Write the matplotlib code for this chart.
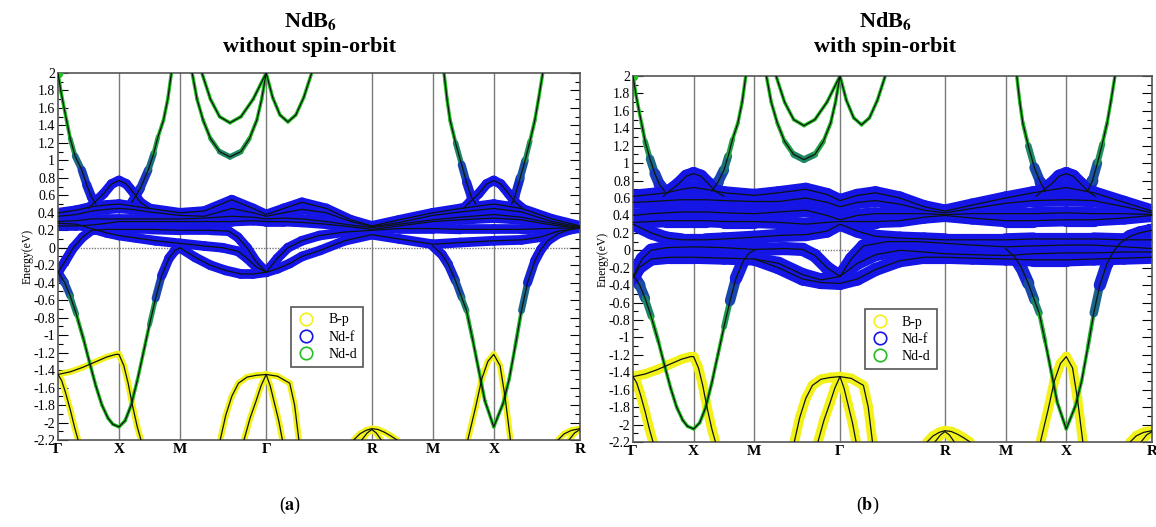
import numpy as np
import matplotlib
matplotlib.use("Agg")
import matplotlib.pyplot as plt
from matplotlib.collections import LineCollection
from matplotlib.lines import Line2D
from matplotlib.colors import to_rgb

plt.rcParams['font.family'] = ['Liberation Serif', 'DejaVu Serif']
plt.rcParams['mathtext.fontset'] = 'stix'

# high symmetry path G-X-M-G-R-M-X-R, lengths in units of pi/a
labels = ['Γ', 'X', 'M', 'Γ', 'R', 'M', 'X', 'R']
seg_len = [1, 1, np.sqrt(2), np.sqrt(3), 1, 1, np.sqrt(2)]
kpts = np.concatenate([[0], np.cumsum(seg_len)])

# common k grid for the flat f manifold
kf = [0, 0.3, 0.55, 0.8, 1.0, 1.2, 1.5, 2.0, 2.4, 2.85, 3.2, 3.414, 3.7, 4.0,
      4.4, 4.8, 5.146, 5.6, 6.146, 6.6, 7.146, 7.6, 8.1, 8.56]

# ---------------- without spin-orbit ----------------
nso_f = [
    (kf, [0.40, 0.43, 0.47, 0.49, 0.50, 0.48, 0.45, 0.40, 0.42, 0.55, 0.45, 0.38,
          0.45, 0.52, 0.45, 0.32, 0.25, 0.32, 0.40, 0.45, 0.50, 0.45, 0.33, 0.25]),
    (kf, [0.36, 0.38, 0.42, 0.44, 0.45, 0.44, 0.41, 0.37, 0.36, 0.45, 0.40, 0.36,
          0.40, 0.44, 0.40, 0.30, 0.24, 0.29, 0.37, 0.41, 0.45, 0.41, 0.30, 0.24]),
    (kf, [0.30, 0.31, 0.33, 0.33, 0.33, 0.33, 0.33, 0.33, 0.34, 0.36, 0.35, 0.33,
          0.34, 0.33, 0.30, 0.26, 0.23, 0.27, 0.32, 0.35, 0.38, 0.35, 0.28, 0.23]),
    (kf, [0.25, 0.25, 0.26, 0.28, 0.30, 0.30, 0.30, 0.30, 0.30, 0.30, 0.31, 0.30,
          0.30, 0.29, 0.27, 0.24, 0.21, 0.25, 0.30, 0.32, 0.34, 0.32, 0.26, 0.22]),
    ([0, 0.3, 0.55, 0.8, 1.0, 1.3, 1.6, 2.0, 2.4, 2.7, 2.95, 3.1, 3.25, 3.414],
     [0.28, 0.27, 0.22, 0.17, 0.14, 0.11, 0.08, 0.05, 0.02, 0.0, -0.04, -0.12, -0.22, -0.28]),
    ([0, 0.12, 0.25, 0.4, 0.55, 0.8, 1.0, 1.5, 2.0, 2.5, 2.8, 2.95, 3.1, 3.25, 3.414],
     [-0.28, -0.15, 0.0, 0.12, 0.2, 0.21, 0.21, 0.21, 0.2, 0.2, 0.19, 0.12, 0.0, -0.16, -0.28]),
    ([2.0, 2.25, 2.5, 2.75, 3.0, 3.2, 3.414, 3.6, 3.8, 4.0, 4.3, 4.7, 5.146, 5.6,
      6.146, 6.6, 7.146, 7.6, 7.9, 8.2, 8.56],
     [0.0, -0.11, -0.2, -0.26, -0.3, -0.3, -0.28, -0.24, -0.18, -0.1, -0.03, 0.08,
      0.15, 0.1, 0.04, 0.06, 0.08, 0.09, 0.12, 0.19, 0.23]),
    ([3.414, 3.6, 3.77, 4.0, 4.29, 4.7, 5.146, 5.6, 6.146, 6.6, 7.146, 7.6, 8.0, 8.56],
     [-0.28, -0.12, 0.0, 0.08, 0.14, 0.18, 0.2, 0.22, 0.22, 0.21, 0.21, 0.21, 0.22, 0.23]),
    ([0.5, 0.6, 0.75, 0.88, 1.0, 1.12, 1.25, 1.35, 1.5],
     [0.45, 0.52, 0.62, 0.73, 0.77, 0.73, 0.62, 0.52, 0.45]),
    ([6.65, 6.75, 6.9, 7.03, 7.146, 7.26, 7.39, 7.5, 7.62],
     [0.45, 0.52, 0.62, 0.73, 0.77, 0.73, 0.62, 0.52, 0.45]),
]

nso_d = [
    ([0, 0.05, 0.1, 0.14, 0.2, 0.28, 0.39, 0.47, 0.55, 0.62],
     [2.0, 1.78, 1.6, 1.46, 1.25, 1.05, 0.89, 0.72, 0.58, 0.5]),
    ([1.21, 1.35, 1.48, 1.57, 1.64, 1.73, 1.8, 1.86],
     [0.52, 0.68, 0.89, 1.08, 1.27, 1.46, 1.7, 2.0]),
    ([6.33, 6.38, 6.43, 6.52, 6.62, 6.7, 6.78, 6.85],
     [2.0, 1.7, 1.46, 1.2, 0.95, 0.75, 0.58, 0.5]),
    ([7.44, 7.49, 7.58, 7.66, 7.74, 7.82, 7.88, 7.95],
     [0.5, 0.58, 0.8, 1.0, 1.22, 1.46, 1.7, 2.0]),
    ([2.2, 2.28, 2.38, 2.5, 2.65, 2.82, 3.0, 3.14, 3.26, 3.34, 3.414],
     [2.0, 1.7, 1.46, 1.25, 1.1, 1.04, 1.1, 1.25, 1.46, 1.7, 2.0]),
    ([2.36, 2.5, 2.65, 2.82, 3.0, 3.2, 3.414],
     [2.0, 1.7, 1.5, 1.43, 1.5, 1.7, 2.0]),
    ([3.414, 3.52, 3.64, 3.77, 3.9, 4.03, 4.16],
     [2.0, 1.72, 1.52, 1.44, 1.52, 1.72, 2.0]),
    ([0, 0.11, 0.2, 0.3, 0.42, 0.52, 0.62, 0.72, 0.82, 0.9, 1.0, 1.1, 1.2, 1.3,
      1.4, 1.5, 1.6, 1.7, 1.82, 1.92, 2.0],
     [-0.28, -0.4, -0.55, -0.76, -1.05, -1.32, -1.58, -1.8, -1.95, -2.02, -2.05,
      -1.98, -1.8, -1.52, -1.2, -0.88, -0.58, -0.32, -0.12, -0.03, 0.0]),
    ([6.146, 6.3, 6.4, 6.52, 6.62, 6.7, 6.8, 6.9, 7.0, 7.146, 7.3, 7.4, 7.5, 7.6,
      7.7, 7.82, 7.92, 8.03, 8.2, 8.36, 8.56],
     [0.02, -0.08, -0.19, -0.38, -0.57, -0.72, -1.05, -1.4, -1.75, -2.05, -1.78,
      -1.5, -1.12, -0.72, -0.4, -0.15, -0.02, 0.08, 0.16, 0.2, 0.23]),
]

nso_p = [
    ([0, 0.2, 0.4, 0.6, 0.8, 0.95, 1.0, 1.08, 1.15, 1.22, 1.3, 1.36],
     [-1.45, -1.42, -1.37, -1.31, -1.25, -1.22, -1.22, -1.35, -1.55, -1.8, -2.05, -2.2]),
    ([0, 0.06, 0.12, 0.2, 0.27, 0.33],
     [-1.45, -1.52, -1.65, -1.85, -2.05, -2.2]),
    ([2.66, 2.75, 2.85, 2.96, 3.1, 3.25, 3.414, 3.6, 3.8, 3.88, 3.95],
     [-2.2, -1.92, -1.7, -1.55, -1.48, -1.46, -1.45, -1.47, -1.55, -1.8, -2.2]),
    ([3.05, 3.15, 3.25, 3.33, 3.414, 3.48, 3.55, 3.62, 3.68],
     [-2.2, -1.95, -1.75, -1.58, -1.45, -1.58, -1.78, -1.98, -2.2]),
    ([4.85, 4.95, 5.05, 5.146, 5.25, 5.35, 5.45, 5.56],
     [-2.2, -2.13, -2.09, -2.07, -2.08, -2.11, -2.15, -2.2]),
    ([4.98, 5.07, 5.146, 5.22, 5.3],
     [-2.2, -2.12, -2.08, -2.12, -2.2]),
    ([6.72, 6.85, 6.95, 7.05, 7.146, 7.25, 7.33, 7.42],
     [-2.2, -1.82, -1.5, -1.3, -1.22, -1.35, -1.7, -2.2]),
    ([8.2, 8.3, 8.42, 8.56], [-2.2, -2.13, -2.09, -2.07]),
    ([8.38, 8.47, 8.56], [-2.2, -2.12, -2.08]),
]

# ---------------- with spin-orbit ----------------
so_f = [
    (kf, [0.62, 0.64, 0.66, 0.70, 0.72, 0.70, 0.66, 0.63, 0.66, 0.70, 0.64, 0.57,
          0.63, 0.66, 0.60, 0.50, 0.45, 0.52, 0.60, 0.66, 0.72, 0.66, 0.55, 0.45]),
    (kf, [0.55, 0.56, 0.57, 0.58, 0.58, 0.58, 0.57, 0.56, 0.56, 0.60, 0.55, 0.50,
          0.55, 0.57, 0.53, 0.46, 0.43, 0.48, 0.54, 0.57, 0.58, 0.57, 0.50, 0.43]),
    (kf, [0.40, 0.42, 0.43, 0.44, 0.44, 0.44, 0.43, 0.42, 0.44, 0.46, 0.40, 0.35,
          0.40, 0.42, 0.42, 0.42, 0.41, 0.42, 0.42, 0.42, 0.43, 0.42, 0.42, 0.41]),
    (kf, [0.32, 0.33, 0.34, 0.34, 0.34, 0.34, 0.33, 0.33, 0.32, 0.30, 0.32, 0.33,
          0.33, 0.33, 0.34, 0.38, 0.40, 0.37, 0.34, 0.34, 0.35, 0.35, 0.37, 0.40]),
    (kf, [0.30, 0.20, 0.14, 0.12, 0.12, 0.12, 0.13, 0.15, 0.17, 0.18, 0.22, 0.30,
          0.22, 0.16, 0.14, 0.13, 0.12, 0.12, 0.12, 0.13, 0.13, 0.13, 0.12, 0.12]),
    ([0, 0.15, 0.3, 0.55, 1.0, 1.5, 2.0, 2.5, 2.8, 3.0, 3.2, 3.414],
     [-0.3, -0.1, 0.0, 0.03, 0.04, 0.03, 0.01, 0.02, 0.01, -0.06, -0.2, -0.3]),
    ([0, 0.1, 0.3, 0.6, 1.0, 1.5, 2.0, 2.4, 2.8, 3.1, 3.414, 3.7, 4.0, 4.4, 4.8,
      5.146, 5.6, 6.146, 6.6, 7.146, 7.6, 8.1, 8.56],
     [-0.32, -0.2, -0.1, -0.08, -0.08, -0.09, -0.1, -0.2, -0.33, -0.37, -0.38,
      -0.33, -0.22, -0.12, -0.08, -0.08, -0.09, -0.1, -0.11, -0.11, -0.1, -0.09, -0.08]),
    ([2.0, 2.4, 2.8, 3.1, 3.414, 3.7, 4.0, 4.4, 4.8, 5.146, 5.6, 6.146, 6.6, 7.146,
      7.6, 8.1, 8.56],
     [-0.1, -0.15, -0.28, -0.34, -0.3, -0.15, -0.05, 0.0, -0.02, -0.04, -0.05, -0.06,
      -0.04, -0.03, -0.03, -0.02, -0.02]),
    ([3.414, 3.6, 3.8, 4.2, 4.7, 5.146, 5.6, 6.146, 6.6, 7.146, 7.6, 8.1, 8.56],
     [-0.3, -0.1, 0.05, 0.1, 0.1, 0.08, 0.06, 0.04, 0.05, 0.06, 0.06, 0.04, 0.02]),
    ([0.5, 0.6, 0.75, 0.88, 1.0, 1.12, 1.25, 1.35, 1.5],
     [0.62, 0.68, 0.76, 0.85, 0.88, 0.85, 0.76, 0.68, 0.62]),
    ([6.65, 6.75, 6.9, 7.03, 7.146, 7.26, 7.39, 7.5, 7.62],
     [0.62, 0.68, 0.76, 0.85, 0.88, 0.85, 0.76, 0.68, 0.62]),
]

so_d = [
    ([0, 0.05, 0.1, 0.14, 0.2, 0.28, 0.36, 0.44, 0.52],
     [2.0, 1.78, 1.6, 1.46, 1.25, 1.05, 0.88, 0.75, 0.68]),
    ([1.3, 1.4, 1.5, 1.57, 1.64, 1.73, 1.8, 1.86],
     [0.68, 0.78, 0.92, 1.08, 1.27, 1.46, 1.7, 2.0]),
    ([6.33, 6.38, 6.43, 6.52, 6.62, 6.72, 6.8],
     [2.0, 1.7, 1.46, 1.2, 0.95, 0.78, 0.68]),
    ([7.5, 7.58, 7.66, 7.74, 7.82, 7.88, 7.95],
     [0.68, 0.8, 1.0, 1.22, 1.46, 1.7, 2.0]),
] + nso_d[4:]

so_p = nso_p

blue = to_rgb('#1515e6')
green = to_rgb('#22c022')
yellow = to_rgb('#f2f21a')


def draw_bands(ax, bands, kind, fat):
    for k, e in bands:
        k = np.asarray(k, float)
        e = np.asarray(e, float)
        pts = np.column_stack([k, e])
        segs = np.stack([pts[:-1], pts[1:]], axis=1)
        em = 0.5 * (e[:-1] + e[1:])
        if kind == 'f':
            cols = [blue] * len(em)
            lws = np.full(len(em), fat)
        elif kind == 'd':
            # f admixture near the flat manifold turns the d bands blue
            w = np.exp(-((em - 0.2) / 0.85) ** 4)
            cols = [tuple(np.array(green) * (1 - wi) + np.array(blue) * wi) for wi in w]
            lws = 2.5 + w * (fat - 2.5)
        else:
            cols = [yellow] * len(em)
            lws = np.full(len(em), fat)
        ax.add_collection(LineCollection(segs, colors=cols, linewidths=lws,
                                         capstyle='round', joinstyle='round', zorder=2))
        ax.plot(k, e, color='#0c1410', lw=0.9, zorder=4)


def setup(ax, f, d, p, ffat, pfat):
    for x in kpts[1:-1]:
        ax.axvline(x, color='#7a7a7a', lw=1, zorder=1)
    ax.axhline(0, color='#777777', lw=1, ls=(0, (1, 1)), zorder=1)
    draw_bands(ax, p, 'p', pfat)
    draw_bands(ax, d, 'd', ffat)
    draw_bands(ax, f, 'f', ffat)
    for k, e in d:
        if e[0] == 2.0 and k[0] in (kpts[0], kpts[3]):
            ax.plot(k[0], e[0], 'o', color=green, ms=6, zorder=3)
        if e[-1] == 2.0 and k[-1] == kpts[3]:
            ax.plot(k[-1], e[-1], 'o', color=green, ms=6, zorder=3)
    ax.set_xlim(kpts[0], kpts[-1])
    ax.set_ylim(-2.2, 2.0)
    yt = np.round(np.arange(-2.2, 2.01, 0.2), 1)
    ax.set_yticks(yt)
    ax.set_yticklabels(['%g' % v for v in yt])
    ax.set_yticks(np.round(np.arange(-2.1, 2.0, 0.2), 1), minor=True)
    ax.set_xticks(kpts)
    ax.set_xticklabels(labels, fontweight='bold', fontsize=11)
    ax.tick_params(axis='y', which='major', direction='in', length=7, width=0.8,
                   left=True, right=True, labelsize=10, pad=2)
    ax.tick_params(axis='y', which='minor', direction='in', length=3.5, width=0.8,
                   left=True, right=True)
    ax.tick_params(axis='x', length=0, pad=2)
    for s in ax.spines.values():
        s.set_color('#555555')
        s.set_linewidth(1.2)
    ax.set_ylabel('Energy(eV)', fontsize=8.5, labelpad=0)
    handles = [Line2D([], [], ls='none', marker='o', ms=9, mfc='none', mec=c, mew=1.2)
               for c in (yellow, blue, green)]
    leg = ax.legend(handles, ['B-p', 'Nd-f', 'Nd-d'], loc='lower left',
                    bbox_to_anchor=(0.434, 0.18), fontsize=10, fancybox=False,
                    framealpha=1, edgecolor='#555555', handletextpad=1.0,
                    borderpad=0.45, labelspacing=0.3, handlelength=1.2)
    leg.get_frame().set_linewidth(1.2)
    leg.set_zorder(6)


fig = plt.figure(figsize=(11.56, 5.27), dpi=100)
axL = fig.add_axes([58 / 1156, 87 / 527, 522 / 1156, 367 / 527])
axR = fig.add_axes([633 / 1156, 85 / 527, 519 / 1156, 366 / 527])

setup(axL, nso_f, nso_d, nso_p, 7, 4.5)
setup(axR, so_f, so_d, so_p, 9.5, 7)

fig.text(310 / 1156, 1 - 21 / 527, r'NdB$_\mathbf{6}$', ha='center', va='center',
         fontsize=16, fontweight='bold')
fig.text(310 / 1156, 1 - 47 / 527, 'without spin-orbit', ha='center', va='center',
         fontsize=16, fontweight='bold')
fig.text(885 / 1156, 1 - 21 / 527, r'NdB$_\mathbf{6}$', ha='center', va='center',
         fontsize=16, fontweight='bold')
fig.text(885 / 1156, 1 - 47 / 527, 'with spin-orbit', ha='center', va='center',
         fontsize=16, fontweight='bold')
fig.text(290 / 1156, 1 - 505 / 527, r'($\mathbf{a}$)', ha='center', va='center', fontsize=13)
fig.text(868 / 1156, 1 - 505 / 527, r'($\mathbf{b}$)', ha='center', va='center', fontsize=13)

fig.savefig('out.png', dpi=100)
